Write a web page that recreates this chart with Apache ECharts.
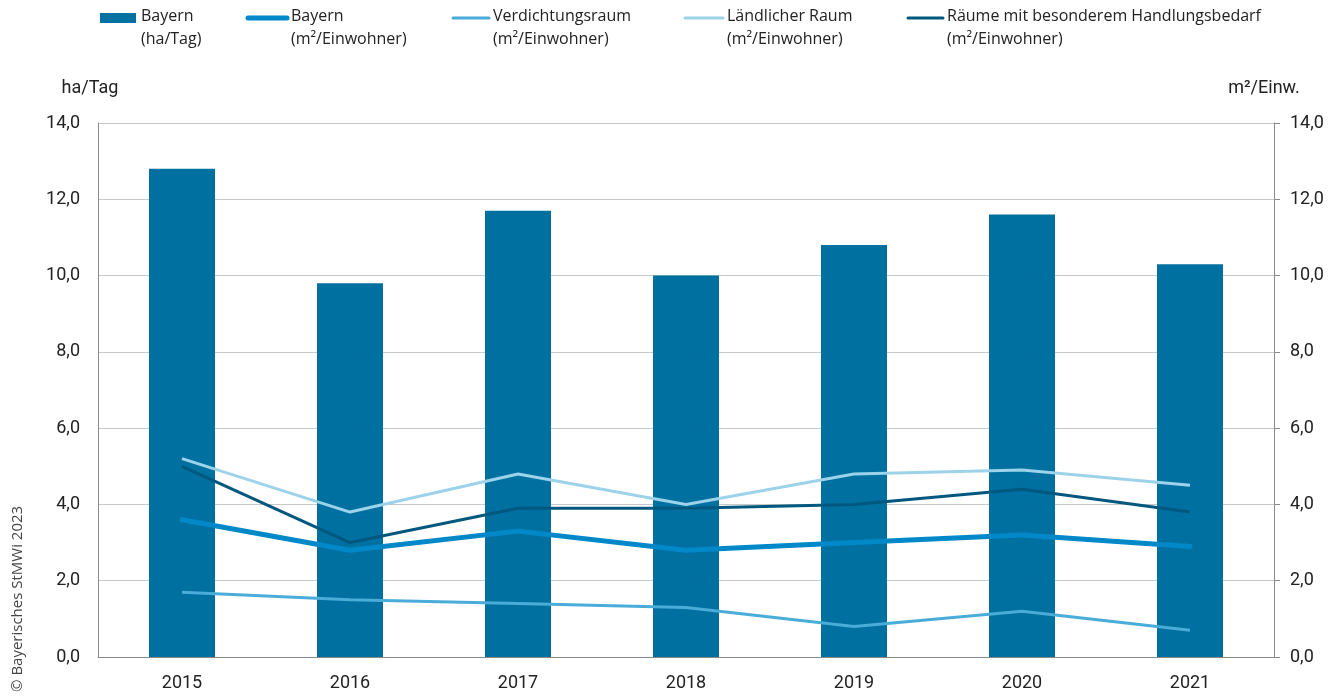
<!DOCTYPE html>
<html><head><meta charset="utf-8">
<script src="https://cdn.jsdelivr.net/npm/echarts@6/dist/echarts.min.js"></script>
<style>html,body{margin:0;padding:0;background:#fff}#c{width:1343px;height:697px}</style>
</head><body><div id="c"></div>
<script>
const years = ['2015','2016','2017','2018','2019','2020','2021'];
const bayernHaTag = [12.8, 9.8, 11.7, 10.0, 10.8, 11.6, 10.3];
const bayernM2 = [3.6, 2.8, 3.3, 2.8, 3.0, 3.2, 2.9];
const verdichtungsraum = [1.7, 1.5, 1.4, 1.3, 0.8, 1.2, 0.7];
const laendlich = [5.2, 3.8, 4.8, 4.0, 4.8, 4.9, 4.5];
const handlungsbedarf = [5.0, 3.0, 3.9, 3.9, 4.0, 4.4, 3.8];
const legendLine1 = ['Bayern', 'Bayern', 'Verdichtungsraum', 'Ländlicher Raum', 'Räume mit besonderem Handlungsbedarf'];
const legendLine2 = ['(ha/Tag)', '(m²/Einwohner)', '(m²/Einwohner)', '(m²/Einwohner)', '(m²/Einwohner)'];

const colors = ['#0070A0', '#0088C8', '#4AACD8', '#9DD3EA', '#00587F'];
const lineWidths = [0, 5, 3, 3, 3];
const legendX = [100, 248, 453, 685, 908];
const legendTextX = [141, 291, 493, 727, 947];

const chart = echarts.init(document.getElementById('c'));
const fmt = v => v.toFixed(1).replace('.', ',');
const tickFont = 'Roboto, sans-serif';
const legFont = '"Open Sans", "Noto Sans", sans-serif';

const graphics = [];
for (let i = 0; i < 5; i++) {
  if (i === 0) {
    graphics.push({type:'rect', left: legendX[i], top: 13, shape:{width:36, height:10}, style:{fill: colors[i]}});
  } else {
    graphics.push({type:'line', shape:{x1: legendX[i], y1: 18, x2: legendTextX[i]-4, y2: 18},
      style:{stroke: colors[i], lineWidth: lineWidths[i], lineCap:'round'}});
  }
  graphics.push({type:'text', left: legendTextX[i], top: 5,
    style:{text: legendLine1[i] + '\n' + legendLine2[i], fill:'#222', font: '16px ' + legFont, lineHeight: 23}});
}
graphics.push({type:'text', x: 25, y: 692, rotation: Math.PI/2,
  style:{text:'© Bayerisches StMWi 2023', fill:'#444', font:'15px ' + legFont, textAlign:'left', textVerticalAlign:'bottom'}});

chart.setOption({
  animation: false,
  graphic: graphics,
  grid: {left: 98, right: 69, top: 123, bottom: 40, containLabel: false},
  xAxis: {
    type: 'category', data: years,
    axisLine: {lineStyle: {color: '#8a8a8a', width: 1}},
    axisTick: {show: false},
    axisLabel: {color: '#222', fontSize: 18, fontFamily: tickFont, margin: 17}
  },
  yAxis: [
    {type: 'value', min: 0, max: 14, interval: 2, name: 'ha/Tag',
     nameTextStyle: {color: '#222', fontSize: 18, fontFamily: tickFont, padding: [0, 16, 0, 0], align: 'center'},
     nameGap: 26,
     axisLine: {show: true, lineStyle: {color: '#8a8a8a'}},
     axisTick: {show: false},
     splitLine: {lineStyle: {color: '#c8c8c8', width: 1}},
     axisLabel: {color: '#222', fontSize: 18, fontFamily: tickFont, margin: 18, formatter: fmt}},
    {type: 'value', min: 0, max: 14, interval: 2, name: 'm²/Einw.', position: 'right',
     nameTextStyle: {color: '#222', fontSize: 18, fontFamily: tickFont, padding: [0, 20, 0, 0], align: 'center'},
     nameGap: 26, nameLocation: 'end',
     axisLine: {show: true, lineStyle: {color: '#8a8a8a'}},
     axisTick: {show: true, length: 6, lineStyle: {color: '#8a8a8a'}},
     splitLine: {show: false},
     axisLabel: {color: '#222', fontSize: 18, fontFamily: tickFont, margin: 16, formatter: fmt}}
  ],
  series: [
    {name: 'Bayern (ha/Tag)', type: 'bar', data: bayernHaTag, barWidth: 66, itemStyle: {color: colors[0]}, z: 1},
    {name: 'Bayern (m²/Einwohner)', type: 'line', yAxisIndex: 1, data: bayernM2, symbol: 'none',
     lineStyle: {color: colors[1], width: 5, cap: 'round'}, z: 5},
    {name: 'Verdichtungsraum (m²/Einwohner)', type: 'line', yAxisIndex: 1, data: verdichtungsraum, symbol: 'none',
     lineStyle: {color: colors[2], width: 3}, z: 3},
    {name: 'Ländlicher Raum (m²/Einwohner)', type: 'line', yAxisIndex: 1, data: laendlich, symbol: 'none',
     lineStyle: {color: colors[3], width: 3}, z: 3},
    {name: 'Räume mit besonderem Handlungsbedarf (m²/Einwohner)', type: 'line', yAxisIndex: 1, data: handlungsbedarf, symbol: 'none',
     lineStyle: {color: colors[4], width: 3}, z: 4}
  ]
});
</script></body></html>
